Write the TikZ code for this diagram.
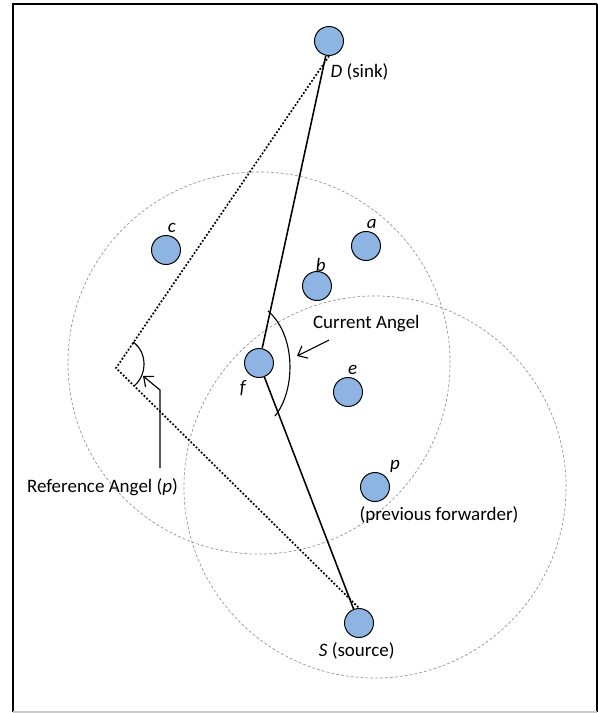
\documentclass[tikz,border=0pt]{standalone}
\usepackage{fontspec}
\setmainfont{Carlito}
\usetikzlibrary{arrows.meta}
\definecolor{nodeblue}{RGB}{142,180,227}
\definecolor{rangegray}{RGB}{150,150,150}
\begin{document}
\begin{tikzpicture}[x=0.025cm, y=-0.025cm, >={Straight Barb[length=2mm, width=3.4mm]},
    sensor/.style={circle, draw, line width=0.7pt, fill=nodeblue, minimum size=0.725cm, inner sep=0pt},
    txt/.style={font=\fontsize{13.5}{16}\selectfont, inner sep=0pt},
    txrange/.style={rangegray, line width=0.5pt, dash pattern=on 2pt off 1.5pt},
    route/.style={line width=1.1pt},
    refline/.style={line width=1.2pt, dash pattern=on 1.3pt off 1.3pt}]
    \useasboundingbox (0,0) rectangle (598,713);
    % Frame
    \draw[line width=2pt] (13,712) -- (13,4) -- (597,4);
    \draw[line width=1.4pt] (597,4) -- (597,712);
    \draw[gray!40, line width=0.8pt] (13,712) -- (597,712);

    % Transmission ranges of f and p
    \coordinate (fc) at (259,363);
    \coordinate (pc) at (375,487);
    \draw[txrange] (fc) circle (4.775cm);
    \draw[txrange] (pc) circle (4.775cm);

    % Sensor nodes
    \node[sensor] (D) at (329,41) {};
    \node[sensor] (f) at (fc) {};
    \node[sensor] (S) at (359,623) {};
    \node[sensor] (p) at (pc) {};
    \node[sensor] (a) at (366,246) {};
    \node[sensor] (b) at (317,286) {};
    \node[sensor] (c) at (166,250) {};
    \node[sensor] (e) at (348,392) {};

    % Route D - f - S
    \draw[route] (D) -- (f) -- (S);

    % Reference path through the vertex
    \coordinate (ref) at (116,368);
    \draw[refline] (D.south) -- (ref) -- (S.north);

    % Angles
    \draw[line width=0.8pt] (268,311) .. controls (296,335) and (296,390) .. (275,416);
    \draw[line width=0.8pt] (133,342) .. controls (147.5,352) and (147.5,375) .. (134,386);

    % Labels
    \node[txt] (Dlabel) at (359.5,71.7) {\textit{D} (sink)};
    \node[txt] (Slabel) at (356.7,650.7) {\textit{S} (source)};
    \node[txt] (alabel) at (371.7,224) {\textit{a}};
    \node[txt] (blabel) at (320.7,265) {\textit{b}};
    \node[txt] (clabel) at (171.7,228) {\textit{c}};
    \node[txt] (elabel) at (352.7,370) {\textit{e}};
    \node[txt] (flabel) at (243.3,388) {\textit{f}};
    \node[txt] (plabel) at (395,466) {\textit{p}};
    \node[txt] (prevlabel) at (439,515) {(previous forwarder)};
    \node[txt] (curlabel) at (366.3,323.3) {Current Angel};
    \node[txt] (reflabel) at (102.5,487) {Reference Angel (\textit{p})};

    % Pointers
    \coordinate (curtail) at (329,340);
    \coordinate (curtip) at (297,356);
    \draw[->, line width=0.8pt] (curtail) -- (curtip);
    \coordinate (reftail) at (160,468);
    \coordinate (refbend) at (160,390);
    \coordinate (reftip) at (143,376);
    \draw[->, line width=0.8pt] (reftail) -- (refbend) -- (reftip);
\end{tikzpicture}
\end{document}
